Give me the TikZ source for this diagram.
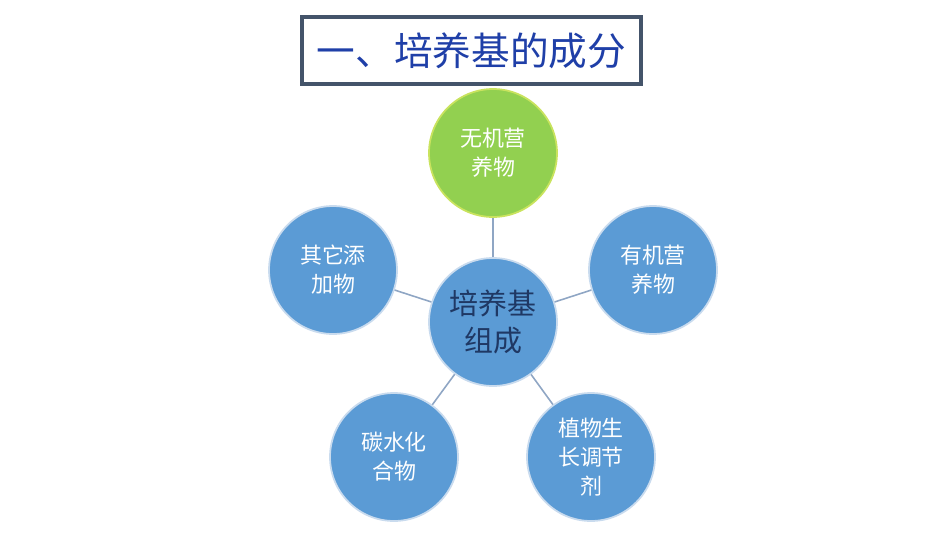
\documentclass[tikz,border=0pt]{standalone}
\usepackage{fontspec}
\usepackage{xcolor}
\usepackage{tikz}
\usetikzlibrary{positioning,calc}
\setmainfont{Noto Sans CJK SC}
\newfontfamily\cjk{Noto Sans CJK SC}

\definecolor{titleblue}{HTML}{1F3FA8}
\definecolor{frameslate}{HTML}{44546A}
\definecolor{leafgreen}{HTML}{92D050}
\definecolor{leafrim}{HTML}{C9E35E}
\definecolor{ballblue}{HTML}{5B9BD5}
\definecolor{ballrim}{HTML}{C9DBEE}
\definecolor{linkgray}{HTML}{8FA6C4}
\definecolor{coretext}{HTML}{1F3864}

\tikzset{
	ball/.style={circle, draw=ballrim, line width=1pt, fill=ballblue, minimum size=2.56cm, inner sep=0, align=center, text=white, font=\cjk\fontsize{12.5}{16.5}\selectfont},
	link/.style={draw=linkgray, line width=0.9pt}
}

\begin{document}
\begin{tikzpicture}[x=0.02cm, y=-0.02cm]
					\useasboundingbox (0,0) rectangle (950,535);
					% 标题框
					\node[draw=frameslate, line width=2.3pt, fill=white, minimum width=6.78cm, minimum height=1.34cm, inner sep=0, text=titleblue, font=\cjk\fontsize{22}{26}\selectfont] (title) at (471.5,50.5) {一、培养基的成分};
					% 中心与五个分支
					\node[ball, text=coretext, font=\cjk\fontsize{16.5}{21}\selectfont] (core) at (493,322) {培养基\\组成};
					\node[ball, fill=leafgreen, draw=leafrim] (inorg) at (493,153) {无机营\\养物};
					\node[ball] (org) at (653,270) {有机营\\养物};
					\node[ball] (other) at (333,270) {其它添\\加物};
					\node[ball] (carb) at (394,457) {碳水化\\合物};
					\node[ball] (grow) at (591,457) {植物生\\长调节\\剂};
					% 连线
					\foreach \leaf in {inorg, org, other, carb, grow}
						\draw[link] (core) -- (\leaf);
				\end{tikzpicture}
\end{document}
